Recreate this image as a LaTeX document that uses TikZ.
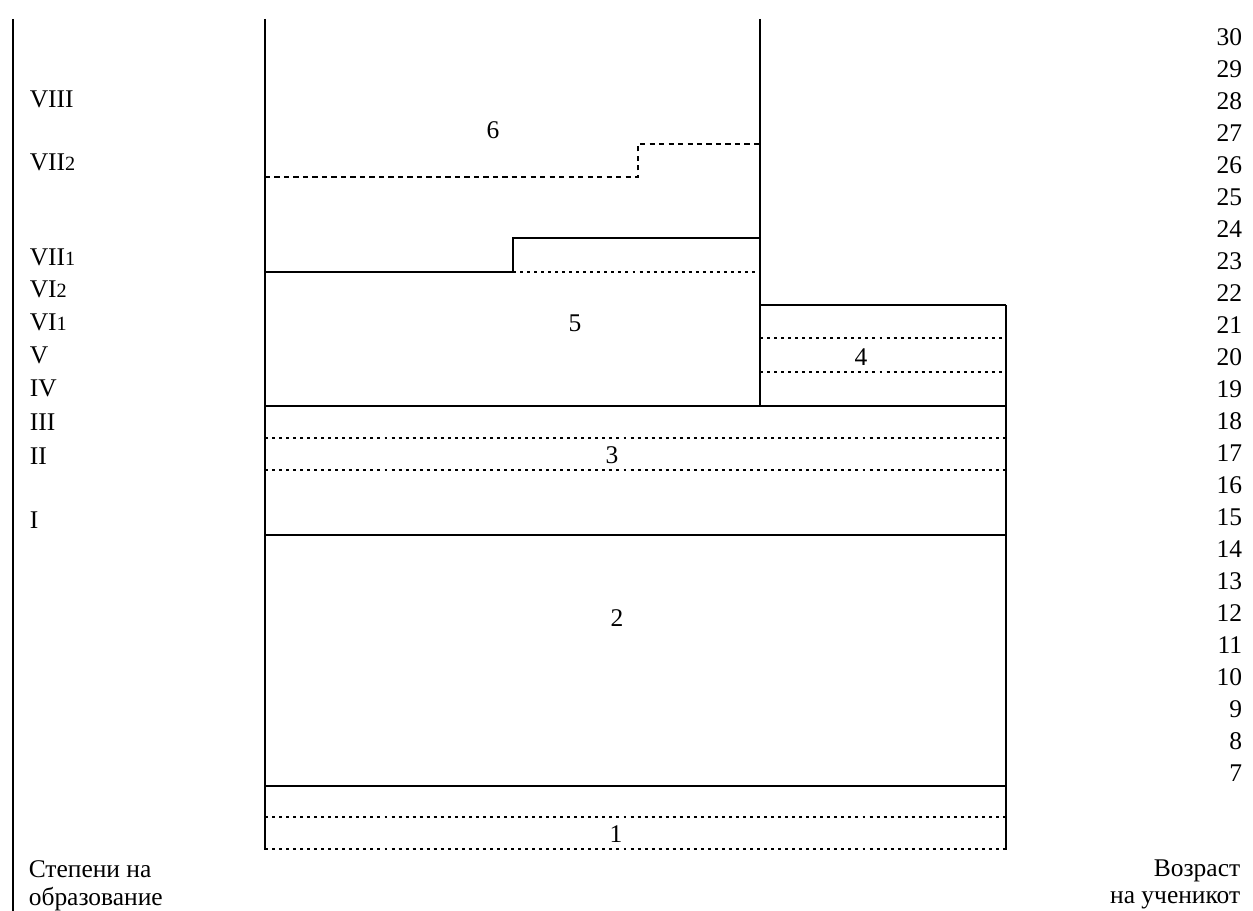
\documentclass[tikz,border=0pt]{standalone}
\usepackage{fontspec}
\setmainfont{Liberation Serif}
\newcommand{\sub}[1]{{\fontsize{11.5}{12}\selectfont #1}}
\begin{document}
\begin{tikzpicture}[x=0.2mm, y=-0.2mm, line width=0.9pt,
    lbl/.style={inner sep=0pt, font=\fontsize{14.5}{18}\selectfont},
    dots/.style={line width=1.1pt, dash pattern=on 1.7pt off 2.3pt},
    dashes/.style={line width=0.7pt, dash pattern=on 3pt off 2.4pt}]
  \useasboundingbox (0,0) rectangle (1253,911);
  % frame lines
  \draw[line width=0.8pt] (13,19) -- (13,911);
  \draw (265,19) -- (265,850);
  \draw (760,19) -- (760,406);
  \draw (1006,305) -- (760,305);
  \draw (1006,305) -- (1006,850);
  \draw (265,272) -- (513,272) -- (513,238) -- (760,238);
  \foreach \y in {406,535,786}
    \draw (265,\y) -- (1006,\y);
  % inner divisions
  \draw[dashes] (265,177) -- (638,177) -- (638,144) -- (760,144);
  \draw[dots] (513,272) -- (760,272);
  \foreach \y in {338,372}
    \draw[dots] (760,\y) -- (1006,\y);
  \foreach \y in {438,470,817,849}
    \draw[dots] (265,\y) -- (1006,\y);
  % degrees
  \node[lbl, anchor=west] (st8) at (29,99) {VIII};
  \node[lbl, anchor=west] (st72) at (29,162) {VII\sub{2}};
  \node[lbl, anchor=west] (st71) at (29,257) {VII\sub{1}};
  \node[lbl, anchor=west] (st62) at (29,289) {VI\sub{2}};
  \node[lbl, anchor=west] (st61) at (29,322) {VI\sub{1}};
  \node[lbl, anchor=west] (st5) at (29,355) {V};
  \node[lbl, anchor=west] (st4) at (29,388) {IV};
  \node[lbl, anchor=west] (st3) at (29,422) {III};
  \node[lbl, anchor=west] (st2) at (29,456) {II};
  \node[lbl, anchor=west] (st1) at (29,520) {I};
  % ages
  \foreach \n in {7,...,30}
    \node[lbl, anchor=east] (age\n) at (1243,{997-32*\n}) {\n};
  % boxes
  \node[lbl] (b6) at (493,130) {6};
  \node[lbl] (b5) at (575,323) {5};
  \node[lbl] (b4) at (861,357) {4};
  \node[lbl] (b3) at (612,455) {3};
  \node[lbl] (b2) at (617,618) {2};
  \node[lbl] (b1) at (616,834) {1};
  % captions
  \node[lbl, anchor=base west] (deg1) at (28,877) {Степени на};
  \node[lbl, anchor=base west] (deg2) at (28,905) {образование};
  \node[lbl, anchor=base east] (age1) at (1241,876) {Возраст};
  \node[lbl, anchor=base east] (age2) at (1241,903) {на ученикот};
\end{tikzpicture}
\end{document}
